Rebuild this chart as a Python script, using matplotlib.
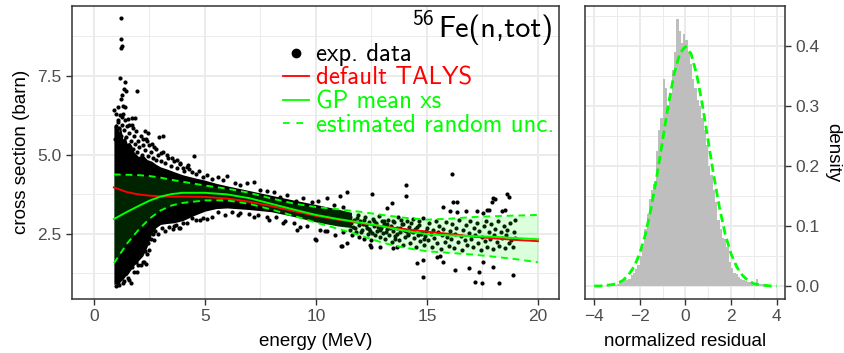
import matplotlib.pyplot as plt
from matplotlib.lines import Line2D
from matplotlib.ticker import MultipleLocator

plt.rcParams['font.family'] = ['Liberation Sans', 'DejaVu Sans']

# ---- left panel: curves ----
curve_e = [0.9, 1.5, 2.0, 2.5, 3.0, 3.5, 4.0, 5.0, 6.0, 7.0, 8.0, 9.0, 10.0,
           11.0, 12.0, 13.0, 14.0, 15.0, 16.0, 17.0, 18.0, 19.0, 20.0]
talys = [3.97, 3.82, 3.75, 3.71, 3.69, 3.68, 3.68, 3.67, 3.62, 3.52, 3.38, 3.22, 3.07,
         2.95, 2.84, 2.74, 2.65, 2.57, 2.50, 2.42, 2.36, 2.31, 2.27]
gp_mean = [2.97, 3.20, 3.38, 3.55, 3.68, 3.76, 3.80, 3.80, 3.75, 3.63, 3.45, 3.27, 3.10,
           2.97, 2.86, 2.74, 2.60, 2.49, 2.45, 2.43, 2.41, 2.37, 2.33]
unc_hi = [4.38, 4.37, 4.36, 4.33, 4.28, 4.21, 4.15, 4.03, 3.93, 3.80, 3.62, 3.46, 3.35,
          3.28, 3.20, 3.10, 3.01, 2.95, 2.98, 3.03, 3.06, 3.08, 3.10]
unc_lo = [1.57, 2.20, 2.62, 2.98, 3.24, 3.40, 3.48, 3.56, 3.56, 3.45, 3.27, 3.07, 2.86,
          2.66, 2.45, 2.22, 2.06, 1.95, 1.90, 1.85, 1.78, 1.70, 1.60]

# solid black part of the experimental cloud (outline)
core_e = [0.9, 1.0, 1.1, 1.2, 1.3, 1.4, 1.5, 1.6, 1.7, 1.8, 2.0, 2.2, 2.4, 2.6, 2.8,
          3.0, 3.3, 3.6, 4.0, 4.5, 5.0, 5.5, 6.0, 7.0, 8.0, 9.0, 10.0, 11.0, 11.6]
core_hi = [5.9, 6.0, 5.7, 5.9, 5.5, 5.6, 5.35, 5.4, 5.3, 5.1, 4.95, 5.0, 4.85, 4.8,
           4.7, 4.62, 4.55, 4.47, 4.37, 4.28, 4.2, 4.1, 4.02, 3.87, 3.72, 3.57, 3.43,
           3.28, 3.18]
core_lo = [0.9, 0.92, 0.9, 1.0, 1.05, 1.15, 1.2, 1.3, 1.4, 1.5, 1.65, 1.8, 2.1, 2.5,
           2.7, 2.8, 2.83, 2.85, 2.92, 3.08, 3.22, 3.3, 3.32, 3.27, 3.2, 3.05, 2.88,
           2.75, 2.7]

# exp. points around the top edge of the cloud and above it
high_e = [1.2, 1.2, 1.25, 1.2, 1.17, 1.4, 1.35, 1.44, 1.92, 1.27, 1.2, 0.92, 1.07, 1.3,
          1.42, 1.0, 1.1, 1.25, 1.55, 1.7, 1.85, 1.6, 1.75, 2.3, 2.45, 2.2, 2.4, 2.6,
          2.94, 3.12, 2.8, 3.0, 3.3, 3.5, 3.72, 3.87, 4.25, 4.5, 4.0, 4.3,
          0.95, 0.98, 1.02, 1.05, 1.08, 1.12, 1.15, 1.18, 1.22, 1.26, 1.3, 1.33, 1.36,
          1.4, 1.45, 1.5, 1.55, 1.6, 1.65, 1.7, 1.75, 1.8, 1.85, 1.9, 1.95, 2.0, 2.05,
          2.1, 2.15, 2.2, 2.3, 2.35, 2.45, 2.5, 2.55, 2.65, 2.7, 2.8, 2.9, 3.0, 3.1,
          3.2, 3.35, 3.45, 3.6, 3.75, 3.9, 4.05, 4.2, 4.4, 4.6, 4.75, 4.9, 5.1, 5.3,
          5.6, 5.8, 5.98, 6.35, 6.6, 6.9, 7.2, 7.5, 7.8, 8.1, 8.38, 8.7, 9.1, 9.4,
          9.8, 10.1, 10.5, 10.8, 11.2,
          11.08, 11.38, 12.52, 13.18, 13.41, 14.04, 14.05, 16.11, 15.7, 16.04, 16.19,
          16.34, 16.34, 16.76, 17.24, 17.54, 17.7, 17.8, 17.94, 18.06, 17.99, 18.62,
          18.69, 18.36, 18.51, 18.96]
high_xs = [9.33, 8.67, 8.43, 8.38, 7.43, 7.32, 7.08, 7.03, 7.03, 6.9, 6.76, 6.42, 6.53,
           6.55, 6.51, 6.3, 6.1, 6.2, 6.15, 6.16, 6.16, 5.95, 5.85, 5.74, 5.69, 5.5,
           5.45, 5.35, 5.58, 5.6, 5.2, 5.05, 5.0, 4.9, 4.84, 4.74, 4.68, 4.97, 4.6, 4.55,
           5.5, 5.9, 5.3, 5.75, 6.05, 5.45, 5.85, 6.25, 5.6, 5.95, 6.3, 5.4, 5.8,
           6.1, 5.55, 5.9, 5.3, 5.7, 5.45, 5.95, 5.2, 5.6, 5.35, 5.75, 5.1, 5.45, 5.25,
           5.6, 5.0, 5.3, 5.15, 5.5, 4.95, 5.3, 5.1, 4.9, 5.25, 4.85, 5.0, 4.8, 5.1,
           4.75, 4.9, 4.65, 4.8, 4.6, 4.7, 4.5, 4.62, 4.45, 4.4, 4.5, 4.3, 4.37, 4.25,
           4.31, 4.2, 4.34, 4.1, 4.05, 4.1, 4.15, 3.9, 3.85, 3.82, 3.68, 3.72, 3.54, 3.62,
           3.5, 3.55, 3.63, 3.4, 3.35,
           3.71, 3.84, 3.77, 3.31, 3.47, 4.05, 3.71, 4.39, 3.36, 3.21, 3.5,
           3.5, 3.19, 3.21, 3.23, 3.15, 3.26, 3.26, 3.5, 3.6, 3.63, 3.77,
           3.66, 3.21, 3.26, 2.94]

# exp. points around the bottom edge of the cloud and below it
low_e = [1.0, 1.1, 1.3, 1.6, 1.65, 1.95, 2.1, 2.25, 2.4, 2.5, 2.7, 2.9, 3.2, 3.6, 3.9,
         4.2, 4.6, 4.9, 5.3, 5.9, 6.5, 7.2, 7.9, 8.5, 9.13, 9.6, 10.0, 10.4, 11.11,
         11.38, 11.16, 12.43, 12.88, 12.5, 13.48, 13.66, 14.53, 14.83, 14.83, 15.44,
         15.59, 15.7, 16.26, 16.9, 17.36, 17.16, 17.46, 17.99, 18.26, 18.86, 17.54,
         1.05, 1.15, 1.25, 1.35, 1.45, 1.55, 1.7, 1.8, 1.9, 2.0, 2.2, 2.3, 2.35, 2.45,
         2.55, 2.65, 2.75, 3.05, 3.4, 3.55, 3.7, 3.85, 4.0, 4.4, 4.8, 5.08, 5.6, 6.2,
         6.6, 7.0, 7.4, 7.8, 8.2, 8.6, 9.0, 9.28, 9.95, 10.2, 10.5, 10.86, 11.2]
low_xs = [0.85, 0.9, 0.95, 1.05, 0.95, 1.3, 1.5, 1.6, 1.85, 2.0, 2.3, 2.5, 2.6, 2.75,
          2.7, 2.85, 2.95, 3.0, 3.05, 3.1, 3.1, 3.05, 2.95, 2.85, 2.63, 2.75, 2.31,
          2.6, 2.12, 2.21, 2.12, 2.15, 2.1, 2.07, 2.05, 2.07, 1.59, 1.68, 1.15, 1.78,
          1.8, 1.6, 1.36, 1.41, 1.28, 0.97, 0.96, 1.45, 0.96, 1.2, 1.62,
          1.1, 0.88, 1.2, 1.0, 1.3, 1.1, 1.45, 1.3, 1.6, 1.5, 1.6, 1.95, 1.55, 2.2,
          2.35, 2.5, 2.6, 2.7, 2.72, 2.65, 2.78, 2.7, 2.85, 3.0, 2.95, 2.97, 3.18, 3.2,
          3.15, 3.12, 3.1, 3.05, 3.02, 2.9, 2.85, 2.73, 2.33, 2.62, 2.6, 2.47, 2.55]

# sparse exp. points at higher energies
tail_e = [11.52, 11.55, 11.6, 11.63, 11.71, 11.74, 11.8, 11.88, 11.92, 11.96,
          12.0, 12.08, 12.12, 12.15, 12.22, 12.28, 12.33, 12.38, 12.45, 12.48,
          12.55, 12.6, 12.66, 12.7, 12.75, 12.82, 12.87, 12.92, 12.96, 13.02,
          13.08, 13.12, 13.18, 13.25, 13.3, 13.36, 13.42, 13.47, 13.52, 13.58,
          13.63, 13.7, 13.74, 13.8, 13.86, 13.9, 13.97, 14.02, 14.08, 14.13,
          14.2, 14.25, 14.3, 14.36, 14.42, 14.48, 14.52, 14.58, 14.65, 14.7,
          14.76, 14.82, 14.88, 14.93, 14.98, 15.05, 15.1, 15.16, 15.22, 15.28,
          15.33, 15.4, 15.45, 15.5, 15.56, 15.62, 15.68, 15.73, 15.8, 15.86,
          15.92, 15.97, 16.03, 16.1, 16.15, 16.22, 16.28, 16.33, 16.4, 16.46,
          16.52, 16.58, 16.63, 16.7, 16.76, 16.82, 16.88, 16.93, 17.0, 17.06,
          17.12, 17.18, 17.24, 17.3, 17.36, 17.42, 17.48, 17.55, 17.6, 17.66,
          17.72, 17.78, 17.85, 17.9, 17.96, 18.02, 18.08, 18.14, 18.2, 18.26,
          18.32, 18.38, 18.45, 18.5, 18.56, 18.62, 18.68, 18.74, 18.8, 18.86,
          18.92, 18.97,
          11.58, 11.66, 11.85, 12.04, 12.18, 12.25, 12.41, 12.52, 12.63, 12.79,
          12.9, 13.05, 13.15, 13.22, 13.33, 13.45, 13.55, 13.67, 13.77, 13.83,
          13.94, 14.05, 14.16, 14.28, 14.39, 14.55, 14.62, 14.73, 14.85, 14.96]
tail_xs = [3.05, 2.62, 2.85, 2.48, 2.95, 2.7, 2.55, 3.1, 2.78, 2.4,
           2.92, 2.62, 2.82, 2.35, 3.02, 2.7, 2.5, 2.88, 2.6, 2.3,
           2.98, 2.75, 2.45, 2.85, 2.58, 3.08, 2.4, 2.7, 2.92, 2.52,
           2.8, 2.35, 2.65, 2.95, 2.48, 2.75, 2.25, 2.6, 2.88, 2.42,
           2.7, 3.05, 2.3, 2.55, 2.82, 2.15, 2.62, 2.4, 2.9, 2.5,
           2.72, 2.22, 2.58, 2.98, 2.38, 2.65, 2.08, 2.45, 2.78, 2.28,
           2.55, 3.0, 2.15, 2.42, 2.68, 2.3, 2.85, 2.5, 2.1, 2.62,
           2.38, 2.92, 2.2, 2.55, 2.75, 2.02, 2.45, 2.65, 2.25, 2.88,
           2.4, 2.12, 2.6, 2.35, 2.82, 2.05, 2.5, 2.7, 2.25, 2.95,
           2.42, 2.0, 2.62, 2.3, 2.78, 2.15, 2.52, 2.9, 2.35, 2.08,
           2.68, 2.45, 2.85, 2.2, 2.58, 1.98, 2.4, 2.75, 2.28, 2.92,
           2.1, 2.55, 2.35, 2.8, 2.02, 2.48, 2.65, 2.25, 2.9, 2.12,
           2.55, 2.38, 2.75, 2.05, 2.45, 2.62, 2.22, 2.85, 2.32, 2.1,
           2.55, 2.38,
           2.9, 2.72, 3.0, 2.55, 2.95, 2.78, 2.65, 2.52, 2.9, 2.72,
           2.62, 2.9, 2.55, 2.82, 2.68, 2.9, 2.35, 2.5, 2.68, 2.95,
           2.8, 2.6, 2.45, 2.85, 2.55, 2.72, 2.9, 2.5, 2.35, 2.58]

# ---- right panel: histogram of normalized residuals ----
bin_centers = [-3.45, -3.35, -3.25, -3.15, -3.05, -2.95, -2.85, -2.75, -2.65, -2.55,
               -2.45, -2.35, -2.25, -2.15, -2.05, -1.95, -1.85, -1.75, -1.65, -1.55,
               -1.45, -1.35, -1.25, -1.15, -1.05, -0.95, -0.85, -0.75, -0.65, -0.55,
               -0.45, -0.35, -0.25, -0.15, -0.05, 0.05, 0.15, 0.25, 0.35, 0.45,
               0.55, 0.65, 0.75, 0.85, 0.95, 1.05, 1.15, 1.25, 1.35, 1.45,
               1.55, 1.65, 1.75, 1.85, 1.95, 2.05, 2.15, 2.25, 2.35, 2.45,
               2.55, 2.65, 2.75, 2.85, 2.95, 3.05, 3.15, 3.25, 3.35, 3.45]
density = [0.002, 0.004, 0.004, 0.002, 0.002, 0.004, 0.006, 0.008, 0.012, 0.010,
           0.012, 0.018, 0.022, 0.028, 0.035, 0.050, 0.065, 0.095, 0.120, 0.145,
           0.160, 0.170, 0.225, 0.260, 0.280, 0.345, 0.330, 0.300, 0.320, 0.360,
           0.390, 0.445, 0.425, 0.405, 0.420, 0.410, 0.390, 0.370, 0.345, 0.330,
           0.310, 0.300, 0.280, 0.260, 0.235, 0.200, 0.185, 0.160, 0.140, 0.110,
           0.095, 0.080, 0.078, 0.065, 0.040, 0.030, 0.022, 0.020, 0.015, 0.012,
           0.010, 0.008, 0.006, 0.006, 0.005, 0.004, 0.012, 0.004, 0.003, 0.002]
norm_x = [-4.0, -3.75, -3.5, -3.25, -3.0, -2.75, -2.5, -2.25, -2.0, -1.75, -1.5,
          -1.25, -1.0, -0.75, -0.5, -0.25, 0.0, 0.25, 0.5, 0.75, 1.0, 1.25, 1.5,
          1.75, 2.0, 2.25, 2.5, 2.75, 3.0, 3.25, 3.5, 3.75, 4.0]
norm_y = [0.000, 0.000, 0.001, 0.002, 0.004, 0.009, 0.018, 0.032, 0.054, 0.086, 0.130,
          0.183, 0.242, 0.301, 0.352, 0.387, 0.399, 0.387, 0.352, 0.301, 0.242, 0.183,
          0.130, 0.086, 0.054, 0.032, 0.018, 0.009, 0.004, 0.002, 0.001, 0.000, 0.000]

GREEN = '#00FF00'


def bw(a):
    a.set_axisbelow(True)
    a.grid(which='major', color='#EBEBEB', lw=1.4)
    a.grid(which='minor', color='#EBEBEB', lw=0.7)
    for s in a.spines.values():
        s.set_color('#333333')
        s.set_linewidth(1.1)
    a.tick_params(which='major', length=4, width=1.0, color='#333333',
                  labelcolor='#4D4D4D', labelsize=12.5)
    a.tick_params(which='minor', length=0)


fig = plt.figure(figsize=(8.44, 3.53), dpi=100)
ax = fig.add_axes([71.7 / 844, 54 / 353, 487.6 / 844, 293.3 / 353])
ax2 = fig.add_axes([585 / 844, 54 / 353, 200 / 844, 293.3 / 353])

# left panel
bw(ax)
ax.fill_between(core_e, core_lo, core_hi, color='black', lw=0, zorder=2)
for xe, yv in [(high_e, high_xs), (low_e, low_xs), (tail_e, tail_xs)]:
    ax.scatter(xe, yv, s=9, color='black', lw=0, zorder=2)
ax.fill_between(curve_e, unc_lo, unc_hi, color=GREEN, alpha=0.14, lw=0, zorder=3)
ax.plot(curve_e, talys, color='red', lw=1.4, zorder=4)
ax.plot(curve_e, gp_mean, color=GREEN, lw=1.4, zorder=5)
ax.plot(curve_e, unc_hi, color=GREEN, lw=1.4, ls=(0, (3.5, 2.5)), zorder=5)
ax.plot(curve_e, unc_lo, color=GREEN, lw=1.4, ls=(0, (3.5, 2.5)), zorder=5)

ax.set_xlim(-1.0, 20.96)
ax.set_ylim(0.44, 9.72)
ax.set_xticks([0, 5, 10, 15, 20])
ax.set_yticks([2.5, 5.0, 7.5])
ax.set_yticklabels(['2.5', '5.0', '7.5'])
ax.xaxis.set_minor_locator(MultipleLocator(2.5))
ax.yaxis.set_minor_locator(MultipleLocator(1.25))
ax.set_xlabel('energy (MeV)', fontsize=13.5, labelpad=6)
ax.set_ylabel('cross section (barn)', fontsize=13.5, labelpad=5)

# title: "Fe(n,tot)" with a separate superscript mass number in front of it
ttl = ax.text(0.987, 0.894, 'Fe(n,tot)', transform=ax.transAxes, ha='right',
              va='baseline', family='cmss10', fontsize=21.8)
fig.canvas.draw()
ttl_left = ttl.get_window_extent().x0
sup_x = ax.transAxes.inverted().transform((ttl_left - 4, 0))[0]
ax.text(sup_x, 0.934, '56', transform=ax.transAxes, ha='right', va='baseline',
        family='cmss10', fontsize=15.5)

handles = [Line2D([], [], marker='o', color='black', ls='none', markersize=6),
           Line2D([], [], color='red', lw=1.3),
           Line2D([], [], color=GREEN, lw=1.3),
           Line2D([], [], color=GREEN, lw=1.3, ls=(0, (3.7, 3.7)))]
labels = ['exp. data', 'default TALYS', 'GP mean xs', 'estimated random unc.']
ax.legend(handles, labels, loc='upper left', bbox_to_anchor=(0.433, 0.872),
          frameon=False, prop={'family': 'cmss10', 'size': 17.8},
          labelcolor=['black', 'red', GREEN, GREEN], handlelength=1.05,
          handletextpad=0.3, labelspacing=0.02, borderaxespad=0, borderpad=0)

# right panel
bw(ax2)
ax2.bar(bin_centers, density, width=0.1, color='#BEBEBE', lw=0, zorder=2)
ax2.plot(norm_x, norm_y, color=GREEN, lw=2.0, ls=(0, (3, 1.6)), zorder=3)
ax2.set_xlim(-4.4, 4.37)
ax2.set_ylim(-0.0217, 0.467)
ax2.set_xticks([-4, -2, 0, 2, 4])
ax2.set_yticks([0.0, 0.1, 0.2, 0.3, 0.4])
ax2.set_yticklabels(['0.0', '0.1', '0.2', '0.3', '0.4'])
ax2.xaxis.set_minor_locator(MultipleLocator(1))
ax2.yaxis.set_minor_locator(MultipleLocator(0.05))
ax2.yaxis.tick_right()
ax2.yaxis.set_label_position('right')
ax2.set_xlabel('normalized residual', fontsize=13.5, labelpad=6)
ax2.set_ylabel('density', fontsize=13.5, rotation=-90, labelpad=3, va='bottom')

fig.savefig('out.png', dpi=100)
